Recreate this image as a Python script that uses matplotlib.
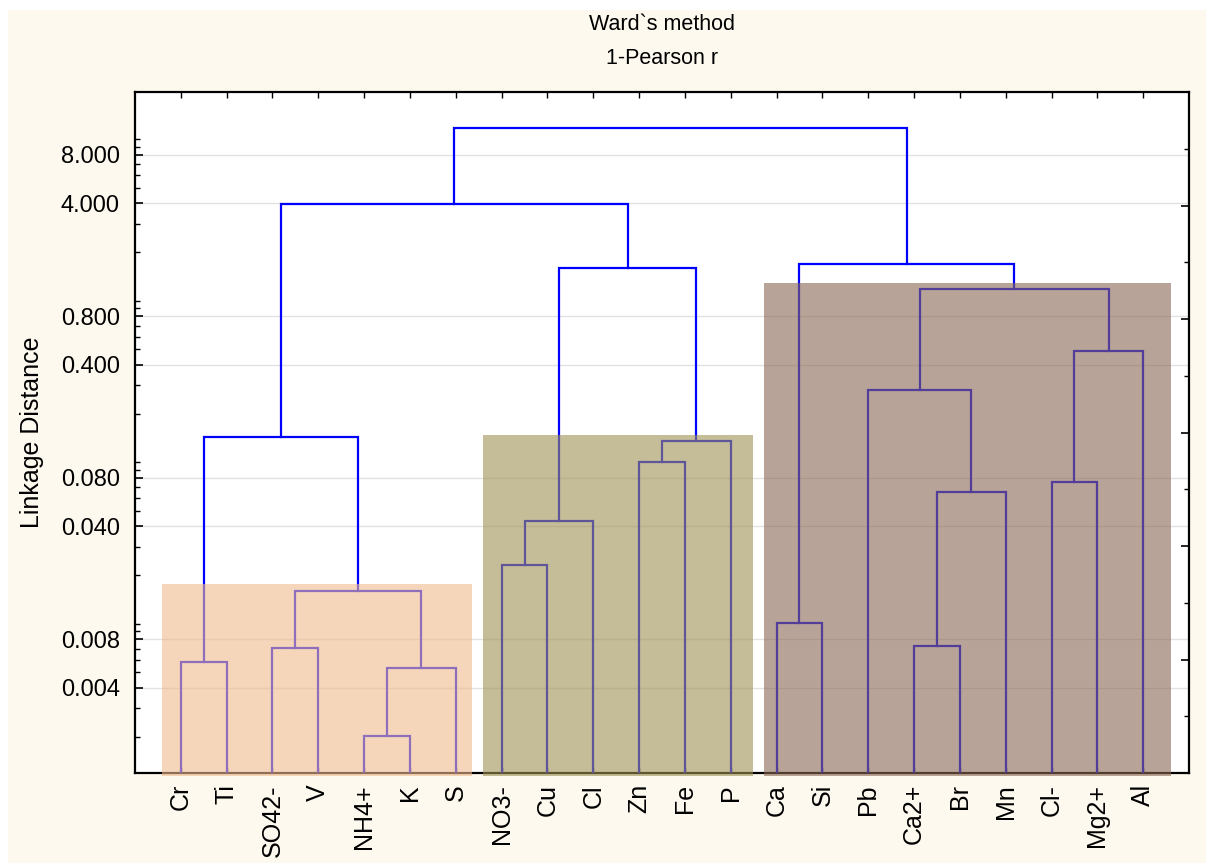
import matplotlib
matplotlib.use("Agg")
import matplotlib.pyplot as plt
import numpy as np
from matplotlib.patches import Rectangle
from matplotlib.ticker import FixedLocator, LogLocator, NullFormatter, FormatStrFormatter

plt.rcParams['font.family'] = ['Liberation Sans', 'DejaVu Sans']

# Leaves in dendrogram order
leaves = ['Cr', 'Ti', 'SO42-', 'V', 'NH4+', 'K', 'S',
          'NO3-', 'Cu', 'Cl', 'Zn', 'Fe', 'P',
          'Ca', 'Si', 'Pb', 'Ca2+', 'Br', 'Mn', 'Cl-', 'Mg2+', 'Al']

# Merges: indices < 22 are leaves, 22+ are earlier clusters (in order)
merge_left = [4, 0, 22, 2, 25, 23, 7, 28, 10, 30, 29, 27,
              13, 16, 35, 15, 19, 38, 37, 34, 33]
merge_right = [5, 1, 6, 3, 24, 26, 8, 9, 11, 12, 31, 32,
               14, 17, 18, 36, 20, 21, 39, 40, 41]
merge_height = [0.00202, 0.0058, 0.0053, 0.0071, 0.016, 0.143,
                0.0231, 0.0435, 0.1007, 0.135, 1.6, 3.97,
                0.0101, 0.0073, 0.0654, 0.28, 0.0755, 0.489, 1.18, 1.69, 11.7]

# Shaded groups: first leaf, last leaf, top of box
group_first = [0, 7, 13]
group_last = [6, 12, 21]
group_top = [0.0176, 0.148, 1.29]
group_colors = ['#f0bb8e', '#9e9153', '#8a6653']
# box margins around the outer leaves (x units)
pad_left = [0.41, 0.41, 0.28]
pad_right = [0.35, 0.48, 0.6]

y_ticks = [0.004, 0.008, 0.040, 0.080, 0.400, 0.800, 4.000, 8.000]

fig = plt.figure(figsize=(12.06, 8.63), dpi=100, facecolor='white')
fig.patches.append(Rectangle((8 / 1206, 0), 1, 853 / 863, transform=fig.transFigure,
                             facecolor='#fdf9ee', edgecolor='none', zorder=-10))

ax = fig.add_axes([135 / 1206, 1 - 773 / 863, 1054 / 1206, 681 / 863])
ax.set_facecolor('white')
ax.set_yscale('log')
ax.set_xlim(0, len(leaves) + 1)
ax.set_ylim(0.00119, 19.6)

# leaf x positions 1..n, heights start at the bottom of the axis
ybase = ax.get_ylim()[0]
xpos = list(np.arange(1, len(leaves) + 1, dtype=float))
hpos = [ybase] * len(leaves)
for a, b, h in zip(merge_left, merge_right, merge_height):
    xa, xb = xpos[a], xpos[b]
    ax.plot([xa, xa, xb, xb], [hpos[a], h, h, hpos[b]], color='#0000ff', lw=1.6,
            solid_joinstyle='miter', zorder=3)
    xpos.append((xa + xb) / 2)
    hpos.append(h)

for i0, i1, top, c, pl, pr in zip(group_first, group_last, group_top, group_colors,
                                  pad_left, pad_right):
    ax.add_patch(Rectangle((i0 + 1 - pl, 0.00114), (i1 - i0) + pl + pr, top - 0.00114,
                           facecolor=c, edgecolor='none', alpha=0.6, zorder=4,
                           clip_on=False))

ax.yaxis.set_major_locator(FixedLocator(y_ticks))
ax.yaxis.set_major_formatter(FormatStrFormatter('%.3f'))
ax.yaxis.set_minor_locator(LogLocator(subs=np.arange(1, 10)))
ax.yaxis.set_minor_formatter(NullFormatter())
ax.grid(True, axis='y', which='major', color='#e2e2e2', lw=1.0, zorder=0)
ax.set_axisbelow(True)

ax.set_xticks(np.arange(1, len(leaves) + 1))
ax.set_xticklabels(leaves, rotation=90, fontsize=18)
ax.tick_params(axis='x', which='both', direction='in', length=4, width=1,
               top=True, pad=8)
ax.tick_params(axis='y', which='major', direction='in', length=6, width=1.2,
               labelsize=17, pad=11)
ax.tick_params(axis='y', which='minor', direction='in', length=3.5, width=1)

for s in ax.spines.values():
    s.set_linewidth(1.6)

ax.set_ylabel('Linkage Distance', fontsize=18, labelpad=12)

# evenly divided tick marks on the right-hand frame
ax2 = ax.twinx()
ax2.set_ylim(0, 12)
ax2.set_yticks(np.arange(2, 12, 2))
ax2.set_yticks(np.arange(1, 12, 2), minor=True)
ax2.tick_params(axis='y', which='major', direction='in', length=6, width=1.2,
                labelright=False)
ax2.tick_params(axis='y', which='minor', direction='in', length=3.5, width=1)
for s in ax2.spines.values():
    s.set_visible(False)

fig.text(662 / 1206, 1 - 24 / 863, 'Ward`s method', ha='center', va='center',
         fontsize=15.5)
fig.text(662 / 1206, 1 - 58 / 863, '1-Pearson r', ha='center', va='center',
         fontsize=15.5)

fig.savefig('out.png', dpi=100, facecolor=fig.get_facecolor())
